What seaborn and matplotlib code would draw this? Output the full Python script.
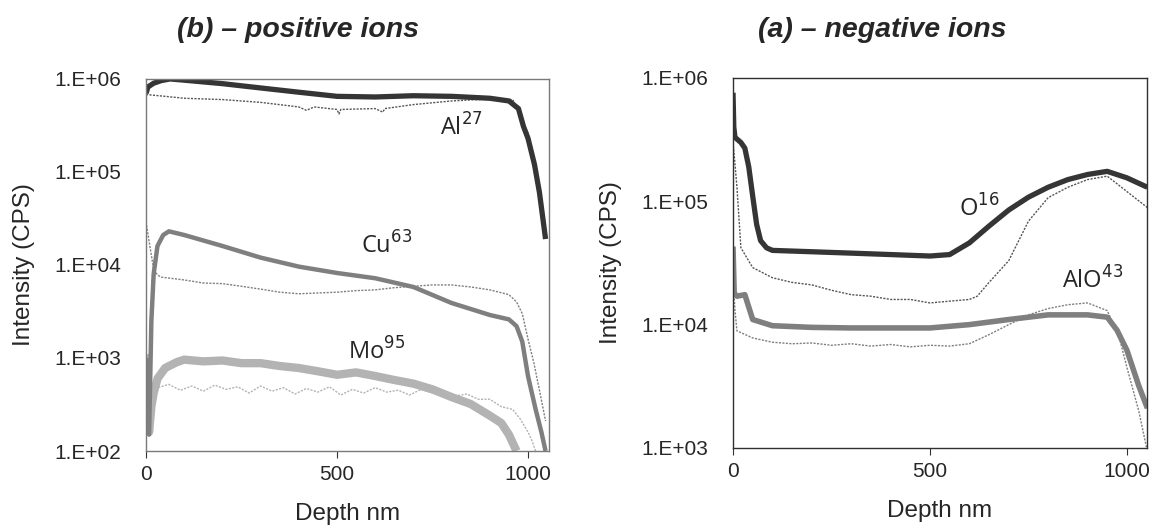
import numpy as np
import pandas as pd
import matplotlib
matplotlib.use("Agg")
import matplotlib.pyplot as plt
import seaborn as sns

#------ data (depth nm, intensity CPS) ------
# (b) positive ions
al_x = [0, 5, 20, 40, 63, 100, 200, 300, 400, 500, 600, 700, 800, 900, 950, 975, 988, 1000, 1017, 1030, 1046]
al_y = [7.0e5, 8.2e5, 9.0e5, 9.6e5, 1.0e6, 9.7e5, 8.9e5, 8.0e5, 7.2e5, 6.5e5, 6.4e5, 6.6e5, 6.5e5, 6.2e5, 5.8e5, 4.8e5, 3.1e5, 2.3e5, 1.2e5, 6.0e4, 1.9e4]
al_dx = [0, 50, 100, 200, 300, 400, 420, 440, 500, 505, 510, 600, 620, 625, 700, 800, 900, 960, 980, 1000, 1020, 1046]
al_dy = [6.8e5, 6.5e5, 6.2e5, 6.0e5, 5.6e5, 5.0e5, 4.6e5, 5.0e5, 4.7e5, 4.2e5, 4.7e5, 4.8e5, 4.4e5, 4.8e5, 5.3e5, 5.8e5, 6.1e5, 6.0e5, 4.0e5, 2.6e5, 1.1e5, 2.0e4]

cu_x = [0, 8, 14, 20, 30, 45, 60, 100, 200, 300, 400, 500, 600, 700, 800, 900, 950, 970, 985, 1000, 1020, 1035, 1046]
cu_y = [1.0e3, 1.5e2, 2.5e3, 8.0e3, 1.6e4, 2.1e4, 2.3e4, 2.1e4, 1.6e4, 1.2e4, 9.6e3, 8.2e3, 7.2e3, 5.8e3, 3.9e3, 2.9e3, 2.6e3, 2.2e3, 1.5e3, 6.4e2, 2.8e2, 1.6e2, 1.0e2]
cu_dx = [0, 10, 20, 30, 40, 100, 150, 200, 250, 300, 350, 400, 450, 500, 550, 600, 650, 700, 750, 800, 850, 900, 950, 970, 985, 1000, 1015, 1030, 1046]
cu_dy = [2.9e4, 1.6e4, 9.0e3, 7.8e3, 7.4e3, 6.9e3, 6.4e3, 6.3e3, 5.9e3, 5.5e3, 5.1e3, 4.9e3, 5.0e3, 5.1e3, 5.3e3, 5.4e3, 5.7e3, 5.9e3, 6.1e3, 6.1e3, 5.8e3, 5.4e3, 4.8e3, 4.0e3, 3.0e3, 1.6e3, 9.0e2, 4.5e2, 2.1e2]

mo_x = [0, 3, 8, 14, 20, 30, 50, 80, 100, 150, 200, 250, 300, 350, 400, 450, 500, 550, 600, 650, 700, 750, 800, 850, 900, 930, 950, 970]
mo_y = [1.1e3, 4.0e2, 1.6e2, 3.0e2, 4.2e2, 6.0e2, 7.8e2, 9.0e2, 9.6e2, 9.2e2, 9.4e2, 8.8e2, 8.8e2, 8.2e2, 7.8e2, 7.2e2, 6.6e2, 7.0e2, 6.4e2, 5.8e2, 5.3e2, 4.6e2, 3.8e2, 3.2e2, 2.4e2, 2.0e2, 1.5e2, 1.0e2]
mo_dx = [0, 15, 30, 60, 90, 120, 150, 180, 210, 240, 270, 300, 330, 360, 390, 420, 450, 480, 510, 540, 570, 600, 630, 660, 690, 720, 750, 780, 810, 840, 870, 900, 930, 960, 980, 1000, 1010, 1020]
mo_dy = [5.5e2, 4.0e2, 4.8e2, 5.2e2, 4.5e2, 5.0e2, 4.4e2, 5.1e2, 4.6e2, 4.9e2, 4.2e2, 5.0e2, 4.4e2, 4.8e2, 4.1e2, 4.7e2, 4.3e2, 4.9e2, 4.0e2, 4.6e2, 4.2e2, 4.8e2, 4.3e2, 4.5e2, 4.0e2, 4.6e2, 4.2e2, 4.4e2, 3.9e2, 4.1e2, 3.6e2, 3.6e2, 3.0e2, 2.8e2, 2.2e2, 1.6e2, 1.3e2, 1.0e2]

# (a) negative ions
o_x = [0, 2, 5, 20, 30, 40, 50, 60, 70, 85, 100, 200, 300, 400, 500, 550, 600, 650, 700, 750, 800, 850, 900, 950, 1000, 1052]
o_y = [7.6e5, 4.0e5, 3.3e5, 3.0e5, 2.7e5, 1.9e5, 1.1e5, 6.5e4, 4.8e4, 4.2e4, 4.0e4, 3.9e4, 3.8e4, 3.7e4, 3.6e4, 3.7e4, 4.6e4, 6.3e4, 8.5e4, 1.08e5, 1.3e5, 1.5e5, 1.65e5, 1.75e5, 1.55e5, 1.3e5]
o_dx = [0, 5, 10, 20, 50, 100, 150, 200, 250, 300, 350, 400, 450, 500, 550, 600, 620, 650, 700, 750, 800, 850, 900, 950, 1000, 1052]
o_dy = [3.0e5, 2.0e5, 1.3e5, 4.2e4, 2.9e4, 2.4e4, 2.2e4, 2.1e4, 1.9e4, 1.75e4, 1.7e4, 1.6e4, 1.6e4, 1.5e4, 1.55e4, 1.6e4, 1.7e4, 2.2e4, 3.3e4, 6.9e4, 1.07e5, 1.3e5, 1.5e5, 1.6e5, 1.2e5, 8.9e4]

alo_x = [0, 3, 10, 30, 50, 100, 200, 300, 400, 500, 600, 700, 800, 900, 950, 975, 1000, 1030, 1052]
alo_y = [4.3e4, 1.8e4, 1.7e4, 1.75e4, 1.1e4, 9.8e3, 9.5e3, 9.4e3, 9.4e3, 9.4e3, 1.0e4, 1.1e4, 1.2e4, 1.2e4, 1.15e4, 9.0e3, 6.2e3, 3.2e3, 2.1e3]
alo_dx = [0, 5, 10, 50, 100, 150, 200, 250, 300, 350, 400, 450, 500, 550, 600, 650, 700, 750, 800, 850, 900, 950, 980, 1000, 1030, 1050]
alo_dy = [2.4e4, 1.3e4, 8.9e3, 7.8e3, 7.2e3, 7.0e3, 7.1e3, 6.8e3, 7.0e3, 6.7e3, 6.9e3, 6.6e3, 6.8e3, 6.7e3, 7.0e3, 8.3e3, 1.0e4, 1.2e4, 1.35e4, 1.45e4, 1.5e4, 1.3e4, 8.0e3, 4.5e3, 2.0e3, 1.0e3]

dark = "#353535"
mid = "#7f7f7f"
light = "#b3b3b3"

sns.set_style("ticks")
plt.rcParams['font.family'] = ['Liberation Sans', 'DejaVu Sans']

fig = plt.figure(figsize=(11.58, 5.27), dpi=100)
ax1 = fig.add_axes([0.1261, 0.1442, 0.348, 0.706])
ax2 = fig.add_axes([0.633, 0.150, 0.3575, 0.702])


def draw(ax, x, y, color, lw, dotted=False):
    d = pd.DataFrame({"Depth": x, "Intensity": y})
    if dotted:
        sns.lineplot(data=d, x="Depth", y="Intensity", ax=ax, color=color, lw=lw,
                     linestyle=(0, (1.5, 1)))
    else:
        sns.lineplot(data=d, x="Depth", y="Intensity", ax=ax, color=color, lw=lw,
                     solid_capstyle="butt")


#----- (b) positive ions -----
draw(ax1, mo_dx, mo_dy, light, 1.0, dotted=True)
draw(ax1, mo_x, mo_y, light, 6.0)
draw(ax1, cu_dx, cu_dy, mid, 1.0, dotted=True)
draw(ax1, cu_x, cu_y, mid, 3.2)
draw(ax1, al_dx, al_dy, "#555555", 1.0, dotted=True)
draw(ax1, al_x, al_y, dark, 3.8)
ax1.set_ylim(1e2, 1e6)
ax1.set_xlim(0, 1055)

lab = dict(fontsize=17, family="Open Sans", va="center")
ax1.text(770, 3.0e5, "Al$^{27}$", **lab)
ax1.text(564, 1.6e4, "Cu$^{63}$", **lab)
ax1.text(530, 1.15e3, "Mo$^{95}$", **lab)

#----- (a) negative ions -----
draw(ax2, alo_dx, alo_dy, mid, 1.0, dotted=True)
draw(ax2, alo_x, alo_y, mid, 4.0)
draw(ax2, o_dx, o_dy, "#555555", 1.0, dotted=True)
draw(ax2, o_x, o_y, dark, 3.8)
ax2.set_ylim(1e3, 1e6)
ax2.set_xlim(0, 1051)

ax2.text(573, 8.7e4, "O$^{16}$", **lab)
ax2.text(836, 2.25e4, "AlO$^{43}$", **lab)

tt = dict(fontsize=20.5, fontweight="bold", fontstyle="italic", ha="center", va="center")
fig.text(0.257, 0.943, "(b) – positive ions", **tt)
fig.text(0.762, 0.943, "(a) – negative ions", **tt)

for ax, sc in ((ax1, "#7a7a7a"), (ax2, "#303030")):
    ax.set_yscale("log")
    ax.set_xticks([0, 500, 1000])
    ax.yaxis.set_major_formatter(matplotlib.ticker.FuncFormatter(
        lambda v, p: "1.E+%02d" % int(round(np.log10(v)))))
    ax.yaxis.set_minor_locator(matplotlib.ticker.NullLocator())
    ax.tick_params(axis="x", labelsize=15, length=5, width=0.8, color="#333333", pad=5)
    ax.tick_params(axis="y", labelsize=15, length=0, pad=18)
    ax.set_xlabel("Depth nm", fontsize=17.5, labelpad=14)
    ax.set_ylabel("Intensity (CPS)", fontsize=17.5, labelpad=14)
    for s in ax.spines.values():
        s.set_color(sc)
        s.set_linewidth(1.0)

fig.savefig("out.png", dpi=100)
